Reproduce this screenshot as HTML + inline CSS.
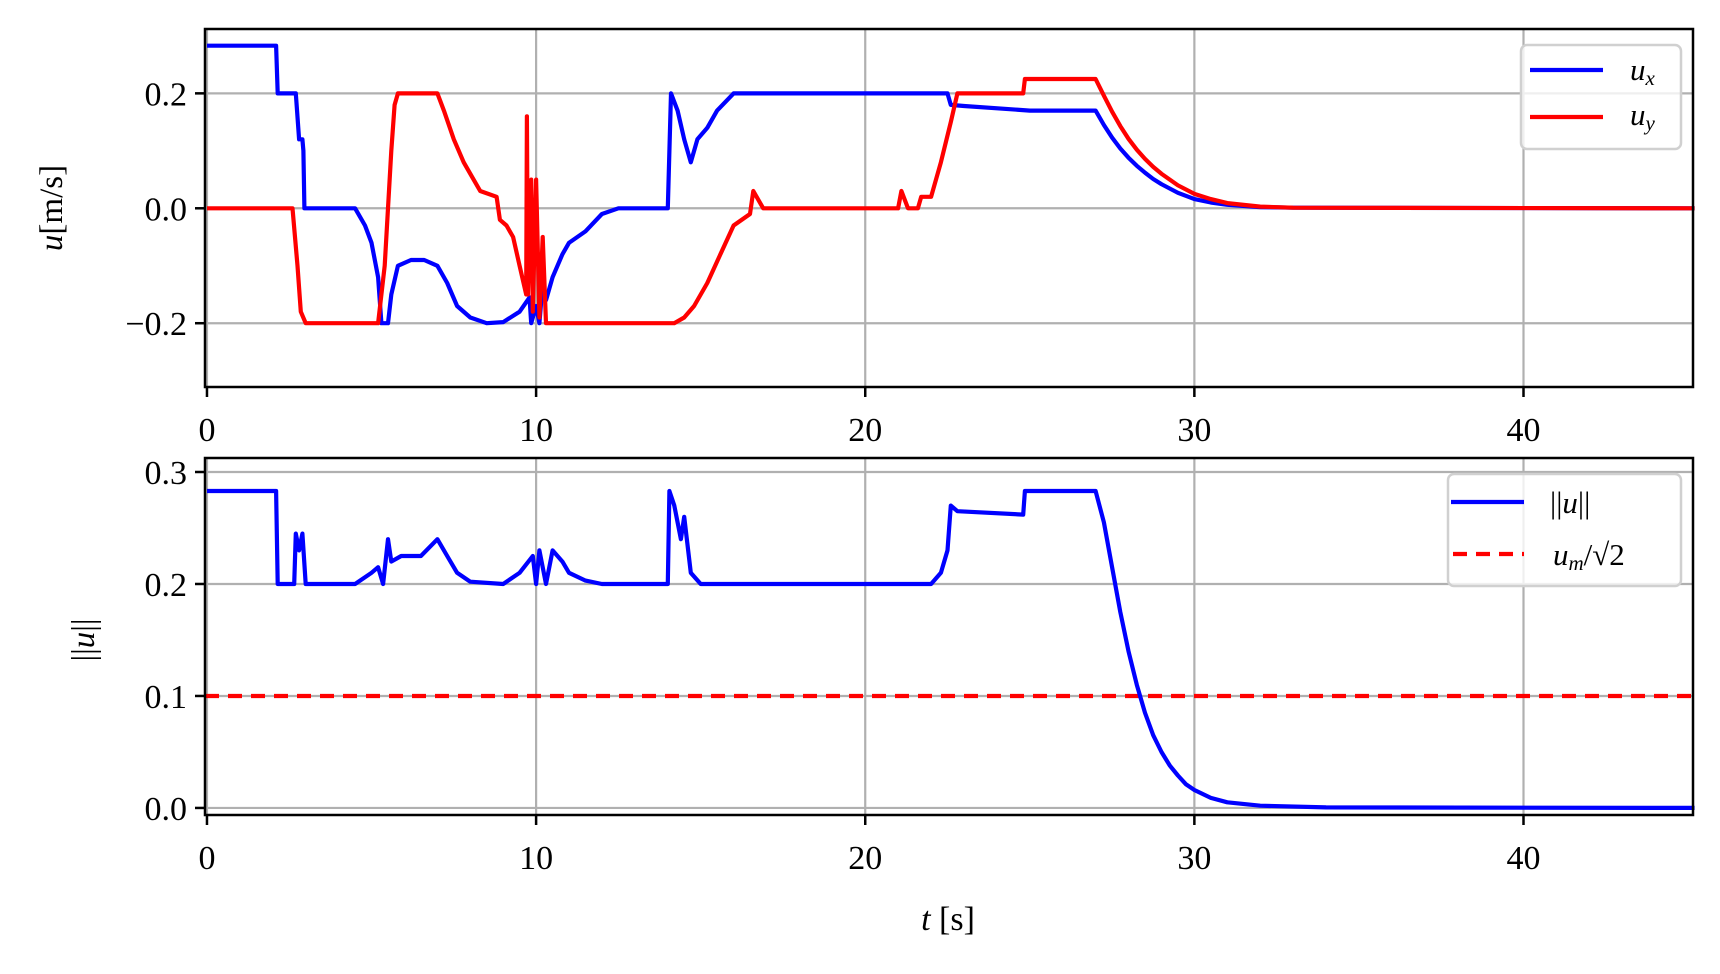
<!DOCTYPE html>
<html><head><meta charset="utf-8"><style>
body{margin:0;background:#fff}
svg text{font-family:"Liberation Serif","DejaVu Serif",serif;fill:#000}
</style></head><body>
<svg id="fig" width="1720" height="969" viewBox="0 0 1720 969" xmlns="http://www.w3.org/2000/svg"></svg>
<script>
const xTicks=[0,10,20,30,40];
const topYTicks=[-0.2,0.0,0.2];
const topYLabels=["\u22120.2","0.0","0.2"];
const botYTicks=[0.0,0.1,0.2,0.3];
const botYLabels=["0.0","0.1","0.2","0.3"];
const uxT=[0,2.1,2.15,2.7,2.8,2.9,2.93,2.96,4.5,4.8,5.0,5.2,5.3,5.5,5.6,5.8,6.2,6.6,7.0,7.3,7.6,8.0,8.5,9.0,9.5,9.8,9.85,10.0,10.1,10.2,10.3,10.5,10.8,11.0,11.5,12.0,12.5,14.0,14.1,14.3,14.5,14.7,14.9,15.2,15.5,16.0,22.5,22.6,23.0,25.0,27.0,27.25,27.5,27.75,28.0,28.25,28.5,28.75,29.0,29.5,30.0,30.5,31.0,32.0,33.0,45.2];
const uxV=[0.283,0.283,0.2,0.2,0.12,0.12,0.1,0,0,-0.03,-0.06,-0.12,-0.2,-0.2,-0.15,-0.1,-0.09,-0.09,-0.1,-0.13,-0.17,-0.19,-0.2,-0.198,-0.18,-0.155,-0.2,-0.17,-0.2,-0.13,-0.16,-0.12,-0.08,-0.06,-0.04,-0.01,0,0,0.2,0.17,0.12,0.08,0.12,0.14,0.17,0.2,0.2,0.18,0.178,0.17,0.17,0.145,0.123,0.104,0.088,0.074,0.062,0.051,0.042,0.027,0.016,0.010,0.006,0.002,0.001,0];
const uyT=[0,2.6,2.75,2.85,3.0,5.2,5.4,5.5,5.6,5.7,5.8,7.0,7.2,7.5,7.8,8.0,8.3,8.8,8.9,9.1,9.3,9.5,9.7,9.72,9.75,9.85,9.9,10.0,10.1,10.2,10.3,10.5,14.2,14.5,14.8,15.2,15.6,16.0,16.5,16.6,16.9,17.0,21.0,21.1,21.3,21.6,21.7,22.0,22.3,22.6,22.8,24.8,24.85,27.0,27.25,27.5,27.75,28.0,28.25,28.5,28.75,29.0,29.5,30.0,30.5,31.0,32.0,33.0,45.2];
const uyV=[0,0,-0.1,-0.18,-0.2,-0.2,-0.1,0,0.1,0.18,0.2,0.2,0.17,0.12,0.08,0.06,0.03,0.02,-0.02,-0.03,-0.05,-0.1,-0.15,0.16,-0.15,0.05,-0.18,0.05,-0.19,-0.05,-0.2,-0.2,-0.2,-0.19,-0.17,-0.13,-0.08,-0.03,-0.01,0.03,0.0,0,0,0.03,0,0,0.02,0.02,0.08,0.15,0.2,0.2,0.225,0.225,0.196,0.168,0.143,0.121,0.102,0.086,0.072,0.06,0.04,0.025,0.016,0.009,0.003,0.001,0];
const nT=[0,2.1,2.15,2.65,2.7,2.8,2.9,3.0,4.5,5.0,5.2,5.35,5.5,5.6,5.9,6.5,7.0,7.3,7.6,8.0,9.0,9.5,9.9,10.0,10.1,10.3,10.5,10.8,11.0,11.5,12.0,14.0,14.05,14.2,14.4,14.5,14.7,15.0,22.0,22.3,22.5,22.6,22.8,24.8,24.85,27.0,27.25,27.5,27.75,28.0,28.25,28.5,28.75,29.0,29.25,29.5,29.75,30.0,30.5,31.0,32.0,34.0,45.2];
const nV=[0.283,0.283,0.2,0.2,0.245,0.23,0.245,0.2,0.2,0.21,0.215,0.2,0.24,0.22,0.225,0.225,0.24,0.225,0.21,0.202,0.2,0.21,0.225,0.2,0.23,0.2,0.23,0.22,0.21,0.203,0.2,0.2,0.283,0.27,0.24,0.26,0.21,0.2,0.2,0.21,0.23,0.27,0.265,0.262,0.283,0.283,0.255,0.215,0.175,0.14,0.11,0.085,0.065,0.05,0.038,0.029,0.021,0.016,0.009,0.005,0.002,0.0005,0];
const limitV=0.1;

const NS="http://www.w3.org/2000/svg";
const svg=document.getElementById('fig');
function mk(tag,attrs,parent){const e=document.createElementNS(NS,tag);for(const k in attrs)e.setAttribute(k,attrs[k]);(parent||svg).appendChild(e);return e;}
const X0=205,X1=1693,XMIN=-0.06,XMAX=45.15;
const sx=t=>X0+(t-XMIN)/(XMAX-XMIN)*(X1-X0);
function axes(top,bot,ymin,ymax,name){
  const sy=v=>bot-(v-ymin)/(ymax-ymin)*(bot-top);
  const g=mk('g',{});
  
  
  return {sy,g,top,bot};
}
function grid(a,yt,yl){
  xTicks.forEach(t=>{
    const l=mk('line',{x1:sx(t),x2:sx(t),y1:a.top,y2:a.bot,stroke:'#b0b0b0','stroke-width':2.2},a.g);
    
    
    mk('line',{x1:sx(t),x2:sx(t),y1:a.bot,y2:a.bot+10,stroke:'#000','stroke-width':2.5},a.g);
    const tx=mk('text',{x:sx(t),y:a.bot+54,'text-anchor':'middle','font-size':34},a.g);
    tx.textContent=t;
    
    
  });
  yt.forEach((v,i)=>{
    const l=mk('line',{x1:X0,x2:X1,y1:a.sy(v),y2:a.sy(v),stroke:'#b0b0b0','stroke-width':2.2},a.g);
    
    
    mk('line',{x1:X0-10,x2:X0,y1:a.sy(v),y2:a.sy(v),stroke:'#000','stroke-width':2.5},a.g);
    const tx=mk('text',{x:X0-18,y:a.sy(v)+12,'text-anchor':'end','font-size':34},a.g);
    tx.textContent=yl[i];
    
    
  });
}
function series(a,T,V,color,name,dash){
  let d='';T.forEach((t,i)=>{d+=(i?'L':'M')+sx(t).toFixed(1)+','+a.sy(V[i]).toFixed(1);});
  const p=mk('path',{d,fill:'none',stroke:color,'stroke-width':4.2,'stroke-linejoin':'round'},a.g);
  if(dash)p.setAttribute('stroke-dasharray',dash);
  
  
}
function frame(a){
  mk('rect',{x:X0,y:a.top,width:X1-X0,height:a.bot-a.top,fill:'none',stroke:'#000','stroke-width':2.5},a.g);
}
const A=axes(29,387,-0.311,0.312,'top-axes');
grid(A,topYTicks,topYLabels);
series(A,uxT,uxV,'#0000ff','ux-line');
series(A,uyT,uyV,'#ff0000','uy-line');
frame(A);
const B=axes(458,815,-0.0063,0.3125,'bottom-axes');
grid(B,botYTicks,botYLabels);
series(B,[XMIN,XMAX],[limitV,limitV],'#ff0000','limit-line','14,9');
series(B,nT,nV,'#0000ff','norm-line');
frame(B);
</script>
<svg width="1720" height="969" style="position:absolute;left:0;top:0" xmlns="http://www.w3.org/2000/svg">
<g><text transform="translate(62,208) rotate(-90)" text-anchor="middle" font-size="33"><tspan font-style="italic">u</tspan>[m/s]</text></g>
<g><text transform="translate(94,640) rotate(-90)" text-anchor="middle" font-size="33">||<tspan font-style="italic">u</tspan>||</text></g>
<text x="948" y="930" text-anchor="middle" font-size="34"><tspan font-style="italic">t</tspan> [s]</text>
<g>
<rect x="1521" y="45" width="160" height="104" rx="6" fill="#fff" fill-opacity="0.8" stroke="#d0d0d0" stroke-width="2.5"/>
<line x1="1530" x2="1603" y1="70" y2="70" stroke="#0000ff" stroke-width="4.2"/>
<text x="1630" y="80" font-size="31" font-style="italic">u<tspan font-size="21" dy="5">x</tspan></text>
<line x1="1530" x2="1603" y1="117" y2="117" stroke="#ff0000" stroke-width="4.2"/>
<text x="1630" y="125" font-size="31" font-style="italic">u<tspan font-size="21" dy="5">y</tspan></text>
</g>
<g>
<rect x="1448" y="474" width="233" height="112" rx="6" fill="#fff" fill-opacity="0.8" stroke="#d0d0d0" stroke-width="2.5"/>
<line x1="1451" x2="1524" y1="502" y2="502" stroke="#0000ff" stroke-width="4.2"/>
<text x="1550" y="513" font-size="31">||<tspan font-style="italic">u</tspan>||</text>
<line x1="1453" x2="1524" y1="554" y2="554" stroke="#ff0000" stroke-width="4.2" stroke-dasharray="14,9"/>
<text x="1553" y="565" font-size="31"><tspan font-style="italic">u</tspan><tspan font-size="21" font-style="italic" dy="5">m</tspan><tspan dy="-5">/√2</tspan></text>
</g>
</svg>
</body></html>
